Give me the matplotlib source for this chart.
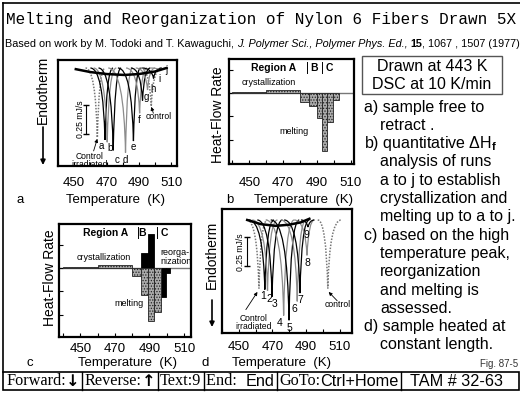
import numpy as np
import matplotlib
matplotlib.use("Agg")
import matplotlib.pyplot as plt
from matplotlib.path import Path
from matplotlib.patches import PathPatch, Rectangle

plt.rcParams['font.family'] = ['Liberation Sans', 'DejaVu Sans']
plt.rcParams['mathtext.fontset'] = 'custom'
plt.rcParams['mathtext.rm'] = 'Liberation Sans'
plt.rcParams['mathtext.bf'] = 'Liberation Sans:bold'
plt.rcParams['mathtext.it'] = 'Liberation Sans:italic'
plt.rcParams['hatch.linewidth'] = 0.6

# ---------------- data ----------------
temp_major = [450, 470, 490, 510]
temp_minor = [440, 460, 480, 500]

# (a) sample free to retract: DSC endotherms (mJ/s, relative to baseline)
a_names = ['a', 'b', 'c', 'd', 'e', 'f', 'g', 'h', 'i', 'j']
a_peak_T = [469.0, 470.4, 474.1, 481.7, 486.6, 490.4, 492.2, 495.3, 499.0, 503.3]
a_peak_y = [-0.62, -0.64, -0.71, -0.73, -0.63, -0.39, -0.28, -0.19, -0.09, -0.02]
a_onset_T = [460.0, 462.0, 465.0, 471.0, 477.0, 482.0, 485.0, 488.0, 492.0, 497.0]
a_end_T = [474.0, 476.0, 479.0, 486.0, 491.0, 495.0, 497.0, 500.0, 504.0, 508.0]
a_ref_peak_T = [464.3, 497.6]      # control irradiated, control
a_ref_peak_y = [-0.60, -0.33]
a_ref_onset_T = [457.0, 491.0]
a_ref_end_T = [469.0, 504.0]
a_base_T = [451, 460, 470, 481, 490, 500, 507]
a_base_y = [-0.01, -0.035, -0.052, -0.06, -0.052, -0.03, 0.0]

# (d) sample heated at constant length
d_names = ['1', '2', '3', '4', '5', '6', '7', '8', '9']
d_peak_T = [465.5, 467.1, 469.8, 476.7, 479.9, 484.8, 486.4, 490.6, 491.2]
d_peak_y = [-0.59, -0.60, -0.65, -0.81, -0.85, -0.69, -0.62, -0.30, -0.06]
d_onset_T = [456.0, 458.0, 461.0, 466.0, 469.0, 475.0, 477.0, 483.0, 487.0]
d_end_T = [471.0, 473.0, 476.0, 483.0, 486.0, 490.0, 492.0, 495.0, 495.0]
d_ref_peak_T = [462.0, 503.0]      # control irradiated, control
d_ref_peak_y = [-0.58, -0.58]
d_ref_onset_T = [455.0, 497.0]
d_ref_end_T = [467.0, 511.0]
d_base_T = [455, 463, 472, 480, 487, 492]
d_base_y = [0.0, -0.035, -0.05, -0.04, -0.02, 0.01]

scale_bar = 0.25  # mJ/s

# (b) quantitative dHf analysis (heat-flow rate, arbitrary units)
b_edges = [440, 460, 480, 485.5, 490, 493, 496, 499.5, 503]
b_heights = [0.04, 0.14, -0.39, -0.56, -1.06, -2.49, -1.24, -0.29]

# (c) high-temperature-peak analysis
c_gray_edges = [440, 460, 480, 485, 489, 492.5, 496.5]
c_gray_heights = [0.04, 0.14, -0.33, -1.14, -2.29, -1.90]
c_black_edges = [485, 489, 492.5, 499.5, 502]
c_black_heights = [0.64, 1.47, -1.24, -0.21]

# ---------------- figure ----------------
W, H = 520, 394
fig = plt.figure(figsize=(W / 100, H / 100), dpi=100)
bg = fig.add_axes([0, 0, 1, 1])
bg.set_xlim(0, W)
bg.set_ylim(H, 0)
bg.axis('off')


def px_axes(l, t, r, b):
    return fig.add_axes([l / W, 1 - b / H, (r - l) / W, (b - t) / H])


def style_axes(ax, xlim, ylim, pad):
    ax.set_xlim(*xlim)
    ax.set_ylim(*ylim)
    for s in ax.spines.values():
        s.set_linewidth(1.6)
    ax.set_xticks(temp_major)
    ax.set_xticks(temp_minor, minor=True)
    ax.set_xticklabels([str(t) for t in temp_major])
    ax.tick_params(axis='x', which='both', direction='in', length=3,
                   width=0.8, top=False, pad=pad, labelsize=9.5)
    ax.set_yticks([])


def trace(ax, t0, tp, yp, t1, **kw):
    verts = [(t0, 0.0), (tp - 1.0, 0.0), (tp, yp), (tp + 1.0, 0.0), (t1, 0.0)]
    codes = [Path.MOVETO, Path.CURVE3, Path.CURVE3, Path.CURVE3, Path.CURVE3]
    ax.add_patch(PathPatch(Path(verts, codes), fill=False, **kw))


arrow_kw = dict(arrowstyle='-|>', lw=0.6, color='black', mutation_scale=5,
                shrinkA=0, shrinkB=0)
line_cols = ['black', '#8c8c8c']
hatch_kw = dict(facecolor='#ababab', edgecolor='#222222', hatch='......',
                linewidth=0.6, align='edge')
note_fs = 6.2

# ---- panel a ----
axa = px_axes(58, 60, 177, 166)
style_axes(axa, (448, 513.5), (-0.845, 0.069), 8)
for k in range(len(a_ref_peak_T)):
    trace(axa, a_ref_onset_T[k], a_ref_peak_T[k], a_ref_peak_y[k],
          a_ref_end_T[k], color='#777777', lw=1.1, ls=(0, (1, 1)))
for k in range(len(a_names)):
    trace(axa, a_onset_T[k], a_peak_T[k], a_peak_y[k], a_end_T[k],
          color=line_cols[k % 2], lw=0.9)
axa.plot(a_base_T, a_base_y, color='black', lw=1.8)
a_lab_off = [(-2.5, -0.8), (2.0, -0.8), (2.5, -3.0), (0, -2), (0, -1),
             (0, -1.5), (3, 6), (4, 4), (4, 3), (4, 4)]
for k, nm in enumerate(a_names):
    axa.annotate(nm, (a_peak_T[k], a_peak_y[k]), xytext=a_lab_off[k],
                 textcoords='offset points', ha='center', va='top', fontsize=7)
axa.plot([457.2, 457.2], [-0.32, -0.32 - scale_bar], color='black', lw=0.8,
         marker='_', ms=4)
axa.text(454.0, -0.445, '0.25 mJ/s', rotation=90, ha='center', va='center',
         fontsize=6.2)
axa.text(459.8, -0.795, 'Control\nirradiated', ha='center', va='center',
         fontsize=note_fs, linespacing=0.9)
axa.annotate('', xy=(464.3, -0.61), xytext=(462.0, -0.715), arrowprops=arrow_kw)
axa.text(502.3, -0.42, 'control', ha='center', va='center', fontsize=note_fs)
axa.annotate('', xy=(497.6, -0.335), xytext=(498.9, -0.39),
             arrowprops=arrow_kw)

# ---- panel b ----
axb = px_axes(229, 59, 354, 164)
style_axes(axb, (438, 512), (-3.05, 1.46), 9)
axb.set_yticks([1, 0, -1, -2, -3])
axb.set_yticklabels([])
axb.tick_params(axis='y', direction='in', length=3, width=0.8, right=False)
axb.axhline(0, color='#777777', lw=1.0, zorder=1)
axb.bar(b_edges[:-1], b_heights, width=np.diff(b_edges), zorder=2, **hatch_kw)
axb.text(464.4, 1.08, 'Region A', ha='center', va='center', fontsize=7.5,
         weight='bold')
axb.text(488.3, 1.08, 'B', ha='center', va='center', fontsize=7.5, weight='bold')
axb.text(497.4, 1.08, 'C', ha='center', va='center', fontsize=7.5, weight='bold')
for xd in (484, 492.8):
    axb.plot([xd, xd], [0.85, 1.32], color='black', lw=0.7)
axb.text(461.4, 0.44, 'crystallization', ha='center', va='center', fontsize=6.5)
axb.text(485.4, -1.67, 'melting', ha='right', va='center', fontsize=6.5)

# ---- panel c ----
axc = px_axes(59, 224, 191, 337)
style_axes(axc, (437.7, 514), (-2.96, 1.9), 4)
axc.set_yticks([1, 0, -1, -2])
axc.set_yticklabels([])
axc.tick_params(axis='y', direction='in', length=3, width=0.8, right=False)
axc.axhline(0, color='#777777', lw=1.0, zorder=1)
axc.bar(c_black_edges[:-1], c_black_heights, width=np.diff(c_black_edges),
        align='edge', facecolor='black', edgecolor='black', lw=0.6, zorder=2)
axc.bar(c_gray_edges[:-1], c_gray_heights, width=np.diff(c_gray_edges),
        zorder=3, **hatch_kw)
axc.text(464.8, 1.52, 'Region A', ha='center', va='center', fontsize=7.5,
         weight='bold')
axc.text(485.8, 1.52, 'B', ha='center', va='center', fontsize=7.5, weight='bold')
axc.text(498.5, 1.52, 'C', ha='center', va='center', fontsize=7.5, weight='bold')
for xd in (483.3, 494.2):
    axc.plot([xd, xd], [1.3, 1.78], color='black', lw=0.7)
axc.text(463.8, 0.47, 'crystallization', ha='center', va='center', fontsize=6.5)
axc.text(478.0, -1.5, 'melting', ha='center', va='center', fontsize=6.5)
axc.text(496.5, 0.46, 'reorga-\nnization', ha='left', va='center', fontsize=6.5,
         linespacing=1.0, clip_on=True)

# ---- panel d ----
axd = px_axes(222, 209, 352, 333)
style_axes(axd, (447.9, 517.4), (-0.958, 0.093), 6)
for k in range(len(d_ref_peak_T)):
    trace(axd, d_ref_onset_T[k], d_ref_peak_T[k], d_ref_peak_y[k],
          d_ref_end_T[k], color='#777777', lw=1.1, ls=(0, (1, 1)))
for k in range(len(d_names)):
    trace(axd, d_onset_T[k], d_peak_T[k], d_peak_y[k], d_end_T[k],
          color=line_cols[k % 2], lw=0.9)
axd.plot(d_base_T, d_base_y, color='black', lw=1.8)
d_lab_off = [(-1, -1), (1.5, -2), (2, -2), (-3, -2), (0, -2), (-2, -2),
             (0, -1), (0, -2), (-1, -2)]
for k, nm in enumerate(d_names):
    axd.annotate(nm, (d_peak_T[k], d_peak_y[k]), xytext=d_lab_off[k],
                 textcoords='offset points', ha='center', va='top', fontsize=7.5)
axd.plot([454.8, 454.8], [-0.144, -0.144 - scale_bar], color='black', lw=0.8,
         marker='_', ms=4)
axd.text(451.2, -0.27, '0.25 mJ/s', rotation=90, ha='center', va='center',
         fontsize=6.2)
axd.text(459.0, -0.87, 'Control\nirradiated', ha='center', va='center',
         fontsize=note_fs, linespacing=0.9)
axd.annotate('', xy=(461.1, -0.61), xytext=(454.2, -0.76), arrowprops=arrow_kw)
axd.text(508.8, -0.72, 'control', ha='center', va='center', fontsize=note_fs)
axd.annotate('', xy=(503.5, -0.61), xytext=(508.6, -0.685),
             arrowprops=arrow_kw)

# ---- axis titles, panel letters ----
lab_fs = 9.5
for (x, y) in [(43, 90), (212, 255)]:
    bg.text(x, y, 'Endotherm', rotation=90, ha='center', va='center',
            fontsize=10)
for (x, y0, y1) in [(43, 127, 165), (212, 300, 327)]:
    bg.annotate('', xy=(x, y1), xytext=(x, y0),
                arrowprops=dict(arrowstyle='-|>', lw=1.2, color='black',
                                mutation_scale=7, shrinkA=0, shrinkB=0))
for (x, y) in [(218, 115), (50, 278)]:
    bg.text(x, y, 'Heat-Flow Rate', rotation=90, ha='center', va='center',
            fontsize=10)
for (lx, cx, y, letter) in [(20, 115, 200, 'a'), (230, 303, 200, 'b'),
                            (30, 128, 363, 'c'), (205, 282, 363, 'd')]:
    bg.text(lx, y, letter, ha='center', va='center', fontsize=lab_fs)
    bg.text(cx, y, 'Temperature  (K)', ha='center', va='center', fontsize=lab_fs)

# ---- frame, title ----
bg.plot([2.5, 2.5], [3, 372], color='black', lw=1.2)
bg.plot([2.5, 520], [3, 3], color='black', lw=1.2)
bg.text(6, 19, 'Melting and Reorganization of Nylon 6 Fibers Drawn 5X',
        family='Liberation Mono', fontsize=11.5, ha='left', va='center')
parts = [('Based on work by M. Todoki and T. Kawaguchi, ', 'normal', 'normal'),
         ('J. Polymer Sci., Polymer Phys. Ed.,', 'italic', 'normal'),
         (' ', 'normal', 'normal'),
         ('15', 'normal', 'bold'),
         (', 1067 , 1507 (1977)', 'normal', 'normal')]
prev = None
for s, st, wt in parts:
    if prev is None:
        prev = bg.text(5, 44, s, fontsize=7.8, style=st, weight=wt,
                       ha='left', va='center')
    else:
        prev = bg.annotate(s, xy=(1, 0), xycoords=prev, fontsize=7.8, style=st,
                           weight=wt, ha='left', va='bottom')

# ---- info box and notes ----
bg.add_patch(Rectangle((362, 56), 140, 38, fill=False, edgecolor='#555555',
                       lw=1.0))
bg.text(432, 66, 'Drawn at 443 K', ha='center', va='center', fontsize=11.5)
bg.text(432, 84, 'DSC at 10 K/min', ha='center', va='center', fontsize=11.5)
notes = [(364, 'a) sample free to'), (380, 'retract .'),
         (364, r'b) quantitative ΔH$_{\mathbf{f}}$'), (380, 'analysis of runs'),
         (380, 'a to j to establish'), (380, 'crystallization and'),
         (380, 'melting up to a to j.'), (364, 'c) based on the high'),
         (380, 'temperature peak,'), (380, 'reorganization'),
         (380, 'and melting is'), (380, 'assessed.'),
         (364, 'd) sample heated at'), (380, 'constant length.')]
for i, (x, s) in enumerate(notes):
    bg.text(x, 107 + 18.3 * i, s, ha='left', va='center', fontsize=11.5)
bg.text(518, 364, 'Fig. 87-5', ha='right', va='center', fontsize=7,
        color='#333333')

# ---- bottom navigation bar ----
serif = ['Liberation Serif', 'DejaVu Serif']
sans = ['Liberation Sans', 'DejaVu Sans']
arrowf = ['DejaVu Sans']
cells = [[('Forward:', serif, 'normal'), ('↓', arrowf, 'bold')],
         [('Reverse:', serif, 'normal'), ('↑', arrowf, 'bold')],
         [('Text:9', serif, 'normal')],
         [('End:  ', serif, 'normal'), ('End', sans, 'normal')],
         [('GoTo:', serif, 'normal'), ('Ctrl+Home', sans, 'normal')],
         [('TAM # 32-63', sans, 'normal')]]
gap_pt = 3.6
bar_fs = 11.7
prev = None
cell_last = []
for ci, cell in enumerate(cells):
    for si, (s, fam, wt) in enumerate(cell):
        if prev is None:
            prev = bg.text(6, 381, s, family=fam, weight=wt, fontsize=bar_fs,
                           ha='left', va='center')
        else:
            off = gap_pt * (2.2 if ci == len(cells) - 1 else 1) if si == 0 else 0
            prev = bg.annotate(s, xy=(1, 0), xycoords=prev, xytext=(off, 0),
                               textcoords='offset points', family=fam,
                               weight=wt, fontsize=bar_fs, ha='left',
                               va='bottom')
    cell_last.append(prev)
bg.add_patch(Rectangle((2.5, 372), 516, 18, fill=False, edgecolor='black',
                       lw=1.2))
fig.canvas.draw()
inv = bg.transData.inverted()
for t in cell_last[:-1]:
    ext = t.get_window_extent()
    xr = inv.transform((ext.x1 + gap_pt * 100 / 72 / 2, 0))[0]
    bg.plot([xr, xr], [372, 390], color='black', lw=1.0)

fig.savefig('out.png', dpi=100)
